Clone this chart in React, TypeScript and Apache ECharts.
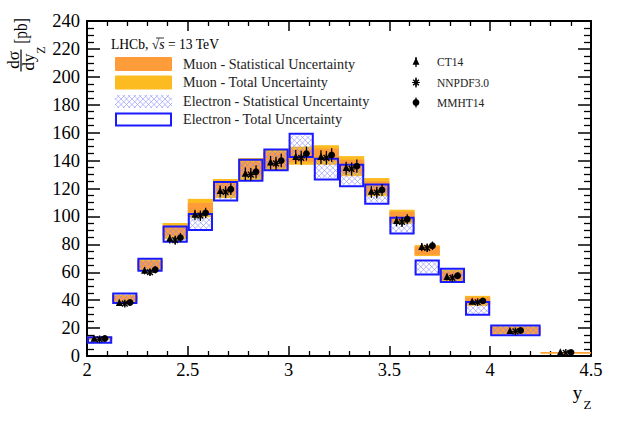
import React, { useEffect, useRef } from "react";
import * as echarts from "echarts";

// ---------- data ----------
const binEdges = [2.0, 2.125, 2.25, 2.375, 2.5, 2.625, 2.75, 2.875, 3.0, 3.125, 3.25, 3.375, 3.5, 3.625, 3.75, 3.875, 4.0, 4.25, 4.5];

const muonValues = [12.8, 41.3, 65.4, 89.5, 106.0, 120.0, 134.0, 140.5, 143.5, 144.0, 136.0, 121.0, 99.8, 75.5, 57.4, 39.5, 18.4, 2.3];
const muonTotal = [1.2, 2.6, 3.8, 5.8, 6.6, 6.8, 7.8, 7.8, 6.5, 7.0, 7.2, 6.5, 5.0, 3.9, 4.2, 3.6, 3.0, 0.5];
const muonStat = [0.7, 1.8, 2.6, 3.6, 3.6, 4.2, 5.2, 5.5, 4.5, 4.6, 4.6, 4.2, 3.6, 3.0, 3.0, 2.4, 2.2, 0.3];

const electronValues = [11.5, 41.3, 65.4, 87.3, 96.0, 118.0, 133.1, 140.5, 150.9, 133.9, 129.3, 116.0, 93.4, 63.4, 57.8, 34.1, 18.4];
const electronTotal = [2.0, 3.4, 4.3, 5.5, 5.7, 6.6, 7.5, 7.5, 8.3, 7.5, 7.7, 6.9, 5.7, 5.1, 4.7, 4.5, 3.5];
const electronStat = [1.7, 2.9, 3.7, 4.7, 4.9, 5.6, 6.4, 6.4, 7.1, 6.4, 6.5, 5.9, 4.9, 4.4, 4.0, 3.8, 3.0];

const ct14 = [12.2, 37.8, 61.0, 83.8, 101.0, 118.0, 130.5, 138.5, 142.5, 142.5, 134.5, 117.5, 96.5, 78.0, 56.5, 38.8, 17.8, 2.4];
const nnpdf = [12.0, 37.5, 60.0, 83.0, 100.5, 117.5, 130.0, 138.0, 142.0, 142.0, 134.0, 117.0, 96.0, 77.5, 56.0, 38.5, 17.6, 2.3];
const mmht = [12.5, 38.3, 61.8, 84.8, 102.5, 119.5, 132.0, 140.0, 145.0, 144.0, 136.0, 119.0, 98.0, 79.0, 57.5, 39.5, 18.3, 2.6];
const theoryErr = [0.4, 1.2, 1.8, 2.5, 3.0, 3.5, 3.9, 4.1, 4.3, 4.2, 4.0, 3.5, 2.9, 2.3, 1.7, 1.2, 0.6, 0.1];
const theoryOffsets = [-0.027, 0.0, 0.026]; // CT14, NNPDF3.0, MMHT14

const xTickValues = [2, 2.5, 3, 3.5, 4, 4.5];
const xTickLabels = ["2", "2.5", "3", "3.5", "4", "4.5"];
const yTickValues = [0, 20, 40, 60, 80, 100, 120, 140, 160, 180, 200, 220, 240];
const yTickLabels = ["0", "20", "40", "60", "80", "100", "120", "140", "160", "180", "200", "220", "240"];

const legendLabels = [
  "Muon - Statistical Uncertainty",
  "Muon - Total Uncertainty",
  "Electron - Statistical Uncertainty",
  "Electron - Total Uncertainty",
];
const theoryLabels = ["CT14", "NNPDF3.0", "MMHT14"];

// ---------- styles ----------
const FONT = "'Liberation Serif', 'Times New Roman', Times, serif";
const C_MU_STAT = "#ff9c3a";
const C_MU_TOT = "#fdbb22";
const C_E_BOX = "#1a1aff";
const C_E_HATCH = "#8a8aff";

function hatchSegments(x0: number, y0: number, x1: number, y1: number, s: number) {
  const segs: number[][] = [];
  const cMin = Math.ceil((y0 - x1) / s) * s;
  const cMax = y1 - x0;
  for (let c = cMin; c <= cMax; c += s) {
    const xa = Math.max(x0, y0 - c);
    const xb = Math.min(x1, y1 - c);
    if (xb > xa) segs.push([xa, xa + c, xb, xb + c]);
  }
  const kMin = Math.ceil((x0 + y0) / s) * s;
  const kMax = x1 + y1;
  for (let k = kMin; k <= kMax; k += s) {
    const xa = Math.max(x0, k - y1);
    const xb = Math.min(x1, k - y0);
    if (xb > xa) segs.push([xa, k - xa, xb, k - xb]);
  }
  return segs;
}

function markerShapes(kind: number, cx: number, cy: number) {
  if (kind === 0) {
    return [
      {
        type: "polygon",
        shape: { points: [[cx, cy - 4.4], [cx - 3.5, cy + 2.8], [cx + 3.5, cy + 2.8]] },
        style: { fill: "#000" },
      },
    ];
  }
  if (kind === 1) {
    const r = 3.8;
    const d = r * 0.75;
    return [
      { type: "line", shape: { x1: cx, y1: cy - r, x2: cx, y2: cy + r }, style: { stroke: "#000", lineWidth: 1.4 } },
      { type: "line", shape: { x1: cx - d, y1: cy - d, x2: cx + d, y2: cy + d }, style: { stroke: "#000", lineWidth: 1.4 } },
      { type: "line", shape: { x1: cx - d, y1: cy + d, x2: cx + d, y2: cy - d }, style: { stroke: "#000", lineWidth: 1.4 } },
      { type: "line", shape: { x1: cx - r, y1: cy, x2: cx + r, y2: cy }, style: { stroke: "#000", lineWidth: 1.0 } },
    ];
  }
  return [{ type: "circle", shape: { cx, cy, r: 3.4 }, style: { fill: "#000" } }];
}

export default function App() {
  const ref = useRef<HTMLDivElement>(null);

  useEffect(() => {
    document.body.style.margin = "0";
    if (!ref.current) return;
    const chart = echarts.init(ref.current, null, { renderer: "svg" });

    const muonData = muonValues.map((v, i) => [binEdges[i], binEdges[i + 1], v, muonTotal[i], muonStat[i]]);
    const elecData = electronValues.map((v, i) => [binEdges[i], binEdges[i + 1], v, electronTotal[i], electronStat[i]]);
    const theorySets = [ct14, nnpdf, mmht];
    const theoryData: number[][] = [];
    theorySets.forEach((arr, k) => {
      arr.forEach((v, i) => {
        const c = (binEdges[i] + binEdges[i + 1]) / 2;
        theoryData.push([c + theoryOffsets[k], v, theoryErr[i], k]);
      });
    });

    const bandRender = (which: "tot" | "stat") => (params: any, api: any) => {
      const x0 = api.value(0), x1 = api.value(1), v = api.value(2);
      const h = which === "tot" ? api.value(3) : api.value(4);
      const p0 = api.coord([x0, v + h]);
      const p1 = api.coord([x1, v - h]);
      return {
        type: "rect",
        shape: { x: p0[0], y: p0[1], width: p1[0] - p0[0], height: Math.max(p1[1] - p0[1], 1.2) },
        style: { fill: which === "tot" ? C_MU_TOT : C_MU_STAT },
      };
    };

    const hatchRender = (params: any, api: any) => {
      const x0 = api.value(0), x1 = api.value(1), v = api.value(2), h = api.value(4);
      const p0 = api.coord([x0, v + h]);
      const p1 = api.coord([x1, v - h]);
      const segs = hatchSegments(p0[0], p0[1], p1[0], p1[1], 5.5);
      return {
        type: "group",
        children: segs.map((s) => ({
          type: "line",
          shape: { x1: s[0], y1: s[1], x2: s[2], y2: s[3] },
          style: { stroke: C_E_HATCH, lineWidth: 0.6 },
        })),
      };
    };

    const boxRender = (params: any, api: any) => {
      const x0 = api.value(0), x1 = api.value(1), v = api.value(2), h = api.value(3);
      const p0 = api.coord([x0, v + h]);
      const p1 = api.coord([x1, v - h]);
      return {
        type: "rect",
        shape: { x: p0[0] + 1, y: p0[1], width: p1[0] - p0[0] - 2, height: p1[1] - p0[1] },
        style: { fill: "none", stroke: C_E_BOX, lineWidth: 2 },
      };
    };

    const theoryRender = (params: any, api: any) => {
      const x = api.value(0), v = api.value(1), e = api.value(2), k = api.value(3);
      const pc = api.coord([x, v]);
      const pt = api.coord([x, v + e]);
      const pb = api.coord([x, v - e]);
      return {
        type: "group",
        children: [
          { type: "line", shape: { x1: pc[0], y1: pt[1] - 1, x2: pc[0], y2: pb[1] + 1 }, style: { stroke: "#000", lineWidth: 1.3 } },
          ...markerShapes(k, pc[0], pc[1]),
        ],
      };
    };

    const axisCommonX = {
      type: "value",
      min: 2,
      max: 4.5,
      interval: 0.5,
      axisLine: { show: true, onZero: false, lineStyle: { color: "#000", width: 2 } },
      axisTick: { show: true, inside: true, length: 10, lineStyle: { color: "#000", width: 1.5 } },
      minorTick: { show: true, splitNumber: 5, length: 5, lineStyle: { color: "#000", width: 1.3 } },
      splitLine: { show: false },
      minorSplitLine: { show: false },
    };
    const axisCommonY = {
      type: "value",
      min: 0,
      max: 240,
      interval: 20,
      axisLine: { show: true, onZero: false, lineStyle: { color: "#000", width: 2 } },
      axisTick: { show: true, inside: true, length: 13, lineStyle: { color: "#000", width: 1.5 } },
      minorTick: { show: true, splitNumber: 4, length: 7, lineStyle: { color: "#000", width: 1.3 } },
      splitLine: { show: false },
      minorSplitLine: { show: false },
    };

    const xLabel = (v: number) => {
      const i = xTickValues.findIndex((t) => Math.abs(t - v) < 1e-9);
      return i >= 0 ? xTickLabels[i] : "";
    };
    const yLabel = (v: number) => {
      const i = yTickValues.findIndex((t) => Math.abs(t - v) < 1e-9);
      return i >= 0 ? yTickLabels[i] : "";
    };

    // legend graphics
    const lx = 115, lw = 57;
    const hatchLegend = hatchSegments(lx, 95, lx + lw, 108, 5.5).map((s) => ({
      type: "line",
      shape: { x1: s[0], y1: s[1], x2: s[2], y2: s[3] },
      style: { stroke: C_E_HATCH, lineWidth: 0.6 },
    }));
    const legendYs = [63.5, 82, 100.5, 119];
    const theoryYs = [62, 82.5, 102.5];

    const graphic: any[] = [
      {
        type: "text",
        x: 111,
        y: 44.5,
        style: {
          text: "{n|LHCb, √}{i|s}{n| = 13 TeV}",
          verticalAlign: "middle",
          rich: {
            n: { fontFamily: FONT, fontSize: 13.6, fill: "#000" },
            i: { fontFamily: FONT, fontSize: 13.6, fontStyle: "italic", fill: "#000" },
          },
        },
      },
      { type: "line", shape: { x1: 156, y1: 38, x2: 164, y2: 38 }, style: { stroke: "#000", lineWidth: 0.8 } },
      { type: "rect", shape: { x: lx, y: 57, width: lw, height: 14, r: 1 }, style: { fill: C_MU_STAT } },
      { type: "rect", shape: { x: lx, y: 75.5, width: lw, height: 14, r: 1 }, style: { fill: C_MU_TOT } },
      ...hatchLegend,
      { type: "rect", shape: { x: lx + 1, y: 113.5, width: lw - 2, height: 12 }, style: { fill: "none", stroke: C_E_BOX, lineWidth: 2 } },
      ...legendLabels.map((t, i) => ({
        type: "text",
        x: 183,
        y: legendYs[i],
        style: { text: t, fontFamily: FONT, fontSize: 14.2, fill: "#222", verticalAlign: "middle" },
      })),
      ...theoryLabels.map((t, i) => ({
        type: "text",
        x: 437,
        y: theoryYs[i],
        style: { text: t, fontFamily: FONT, fontSize: 11.5, fill: "#222", verticalAlign: "middle" },
      })),
      ...theoryLabels.map((t, i) => ({
        type: "group",
        children: [
          { type: "line", shape: { x1: 416, y1: theoryYs[i] - 5, x2: 416, y2: theoryYs[i] + 5 }, style: { stroke: "#000", lineWidth: 1.3 } },
          ...markerShapes(i, 416, theoryYs[i]),
        ],
      })),
      // y axis title
      {
        type: "text",
        x: 21.5,
        y: 31,
        rotation: Math.PI / 2,
        scaleX: 0.85,
        style: { text: "[pb]", fontFamily: FONT, fontSize: 18, fill: "#000", align: "center", verticalAlign: "middle" },
      },
      {
        type: "text",
        x: 13.5,
        y: 60,
        rotation: Math.PI / 2,
        style: { text: "dσ", fontFamily: FONT, fontSize: 17, fill: "#000", align: "center", verticalAlign: "middle" },
      },
      { type: "line", shape: { x1: 21, y1: 49.5, x2: 21, y2: 71.5 }, style: { stroke: "#000", lineWidth: 1.2 } },
      {
        type: "text",
        x: 28.5,
        y: 62,
        rotation: Math.PI / 2,
        style: { text: "dy", fontFamily: FONT, fontSize: 17, fill: "#000", align: "center", verticalAlign: "middle" },
      },
      {
        type: "text",
        x: 40.5,
        y: 50,
        rotation: Math.PI / 2,
        style: { text: "Z", fontFamily: FONT, fontSize: 12, fill: "#000", align: "center", verticalAlign: "middle" },
      },
      // x axis title
      {
        type: "text",
        x: 577.5,
        y: 392,
        style: { text: "y", fontFamily: FONT, fontSize: 19, fill: "#000", align: "center", verticalAlign: "middle" },
      },
      {
        type: "text",
        x: 587.5,
        y: 404.5,
        style: { text: "Z", fontFamily: FONT, fontSize: 13, fill: "#000", align: "center", verticalAlign: "middle" },
      },
    ];

    chart.setOption({
      animation: false,
      backgroundColor: "#fff",
      textStyle: { fontFamily: FONT },
      grid: { left: 87, right: 32, top: 21, bottom: 69 },
      xAxis: [
        {
          ...axisCommonX,
          position: "bottom",
          axisLabel: { show: true, color: "#000", fontFamily: FONT, fontSize: 18.5, margin: 4, formatter: xLabel, showMinLabel: true, showMaxLabel: true },
        },
        { ...axisCommonX, position: "top", axisLabel: { show: false } },
      ],
      yAxis: [
        {
          ...axisCommonY,
          position: "left",
          axisLabel: { show: true, color: "#000", fontFamily: FONT, fontSize: 18.5, margin: 7, formatter: yLabel, showMinLabel: true, showMaxLabel: true },
        },
        { ...axisCommonY, position: "right", axisLabel: { show: false } },
      ],
      series: [
        { type: "custom", name: "muTot", renderItem: bandRender("tot"), data: muonData, encode: { x: [0, 1], y: 2 }, z: 1 },
        { type: "custom", name: "muStat", renderItem: bandRender("stat"), data: muonData, encode: { x: [0, 1], y: 2 }, z: 2 },
        { type: "custom", name: "eStat", renderItem: hatchRender, data: elecData, encode: { x: [0, 1], y: 2 }, z: 3 },
        { type: "custom", name: "eTot", renderItem: boxRender, data: elecData, encode: { x: [0, 1], y: 2 }, z: 4 },
        { type: "custom", name: "theory", renderItem: theoryRender, data: theoryData, encode: { x: 0, y: 1 }, z: 5 },
      ],
      graphic,
    });

    return () => chart.dispose();
  }, []);

  return <div ref={ref} style={{ width: 623, height: 425 }} />;
}
